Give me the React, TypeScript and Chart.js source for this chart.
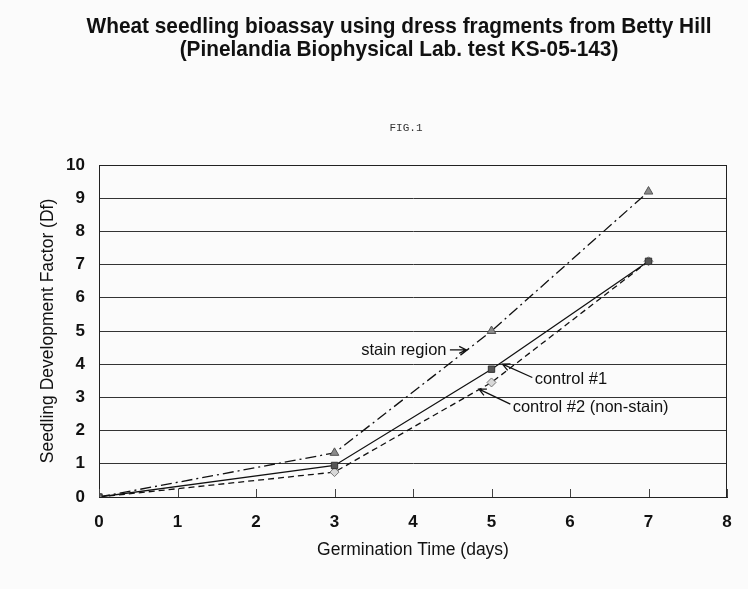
import React, { useEffect, useRef } from "react";
import { Chart, registerables } from "chart.js";

Chart.register(...registerables);

// ---- data ----
const days = [0, 3, 5, 7];
const stainRegion = [0, 1.33, 5.0, 9.2];
const control1 = [0, 0.95, 3.85, 7.1];
const control2 = [0, 0.75, 3.45, 7.1];
const xTickValues = [0, 1, 2, 3, 4, 5, 6, 7, 8];
const titleLines = [
  "Wheat seedling bioassay using dress fragments from Betty Hill",
  "(Pinelandia Biophysical Lab. test KS-05-143)",
];
const figLabel = "FIG.1";
const xTitle = "Germination Time (days)";
const yTitle = "Seedling Development Factor (Df)";
const seriesNames = ["stain region", "control #1", "control #2 (non-stain)"];

// annotation placement (data units)
const annotationText = ["stain region", "control #1", "control #2 (non-stain)"];
const annotationTextAt = [
  [3.34, 4.4],
  [5.55, 3.55],
  [5.27, 2.71],
];
const annotationArrowFrom = [
  [4.47, 4.43],
  [5.52, 3.6],
  [5.24, 2.8],
];
const annotationArrowTo = [
  [4.68, 4.43],
  [5.14, 4.0],
  [4.84, 3.25],
];

const FONT = "'Liberation Sans', Arial, sans-serif";

const decorPlugin = {
  id: "decor",
  beforeDraw(chart: any) {
    const ctx = chart.ctx;
    ctx.save();
    ctx.fillStyle = "#fbfbfb";
    ctx.fillRect(0, 0, chart.width, chart.height);
    ctx.restore();
  },
  afterDraw(chart: any) {
    const ctx = chart.ctx;
    const { left, right, top, bottom } = chart.chartArea;
    const xs = chart.scales.x;
    const ys = chart.scales.y;
    ctx.save();
    // title (condensed bold)
    ctx.fillStyle = "#111";
    ctx.font = `bold 22px ${FONT}`;
    ctx.textAlign = "center";
    ctx.textBaseline = "middle";
    const w0 = ctx.measureText(titleLines[0]).width;
    const sx = 625 / w0;
    const cy = [27, 50];
    titleLines.forEach((t, i) => {
      ctx.save();
      ctx.translate(399, cy[i]);
      ctx.scale(sx, 1);
      ctx.fillText(t, 0, 0);
      ctx.restore();
    });
    // FIG label
    ctx.font = `11px 'Liberation Mono', 'DejaVu Sans Mono', monospace`;
    ctx.fillStyle = "#333";
    ctx.fillText(figLabel, 406, 128);

    // plot border
    ctx.strokeStyle = "#222";
    ctx.lineWidth = 1;
    ctx.strokeRect(left + 0.5, top + 0.5, right - left - 1, bottom - top);

    // inward x tick marks
    ctx.strokeStyle = "#444";
    xTickValues.forEach((v) => {
      const px = Math.round(xs.getPixelForValue(v)) + 0.5;
      ctx.beginPath();
      ctx.moveTo(px, bottom);
      ctx.lineTo(px, bottom - 8);
      ctx.stroke();
    });

    // annotations
    ctx.font = `16.5px ${FONT}`;
    ctx.fillStyle = "#111";
    ctx.textAlign = "left";
    ctx.textBaseline = "middle";
    ctx.strokeStyle = "#111";
    ctx.lineWidth = 1.3;
    annotationText.forEach((t, i) => {
      const tx = xs.getPixelForValue(annotationTextAt[i][0]);
      const ty = ys.getPixelForValue(annotationTextAt[i][1]);
      ctx.fillText(t, tx, ty);
      const x1 = xs.getPixelForValue(annotationArrowFrom[i][0]);
      const y1 = ys.getPixelForValue(annotationArrowFrom[i][1]);
      const x2 = xs.getPixelForValue(annotationArrowTo[i][0]);
      const y2 = ys.getPixelForValue(annotationArrowTo[i][1]);
      ctx.beginPath();
      ctx.moveTo(x1, y1);
      ctx.lineTo(x2, y2);
      const a = Math.atan2(y2 - y1, x2 - x1);
      const L = 8;
      const h = 0.45;
      ctx.moveTo(x2 - L * Math.cos(a - h), y2 - L * Math.sin(a - h));
      ctx.lineTo(x2, y2);
      ctx.lineTo(x2 - L * Math.cos(a + h), y2 - L * Math.sin(a + h));
      ctx.stroke();
    });
    ctx.restore();
  },
};

export default function App() {
  const ref = useRef<HTMLCanvasElement | null>(null);
  useEffect(() => {
    document.body.style.margin = "0";
    const canvas = ref.current;
    if (!canvas) return;
    const mk = (ys: number[]) => days.map((d, i) => ({ x: d, y: ys[i] }));
    const chart = new Chart(canvas, {
      type: "line",
      data: {
        datasets: [
          {
            label: seriesNames[0],
            data: mk(stainRegion),
            borderColor: "#111",
            borderWidth: 1.3,
            borderDash: [11, 4, 2, 4],
            pointStyle: "triangle",
            pointRadius: 5,
            pointBackgroundColor: "#8a8a8a",
            pointBorderColor: "#555",
            pointBorderWidth: 1,
          },
          {
            label: seriesNames[1],
            data: mk(control1),
            borderColor: "#111",
            borderWidth: 1.3,
            pointStyle: "rect",
            pointRadius: 4.5,
            pointBackgroundColor: "#555",
            pointBorderColor: "#333",
            pointBorderWidth: 1,
          },
          {
            label: seriesNames[2],
            data: mk(control2),
            borderColor: "#111",
            borderWidth: 1.3,
            borderDash: [6, 4],
            pointStyle: "rectRot",
            pointRadius: 4.5,
            pointBackgroundColor: "#d8d8d8",
            pointBorderColor: "#777",
            pointBorderWidth: 1,
          },
        ],
      },
      options: {
        responsive: false,
        animation: false,
        devicePixelRatio: 1,
        layout: { padding: { top: 165, right: 21, bottom: 22, left: 0 } },
        plugins: {
          legend: { display: false },
          title: { display: false },
          tooltip: { enabled: false },
        },
        scales: {
          x: {
            type: "linear",
            min: 0,
            max: 8,
            afterFit: (s: any) => {
              s.height = 70;
            },
            afterBuildTicks: (s: any) => {
              s.ticks = xTickValues.map((v) => ({ value: v }));
            },
            ticks: {
              color: "#111",
              font: { family: FONT, size: 17, weight: "bold" },
              padding: 15,
              maxRotation: 0,
            },
            grid: { display: false, drawTicks: false },
            border: { display: true, color: "#222", width: 1 },
            title: {
              display: true,
              text: xTitle,
              color: "#111",
              font: { family: FONT, size: 17.5 },
              padding: { top: 0, bottom: 6.5 },
            },
          },
          y: {
            type: "linear",
            min: 0,
            max: 10,
            afterFit: (s: any) => {
              s.width = 99;
            },
            ticks: {
              stepSize: 1,
              color: "#111",
              font: { family: FONT, size: 17, weight: "bold" },
              padding: 14,
            },
            grid: { color: "#333", lineWidth: 1, drawTicks: false },
            border: { display: true, color: "#222", width: 1 },
            title: {
              display: true,
              text: yTitle,
              color: "#111",
              font: { family: FONT, size: 17.5 },
              padding: { top: 38, bottom: 0 },
            },
          },
        },
      },
      plugins: [decorPlugin],
    } as any);
    return () => chart.destroy();
  }, []);
  return <canvas ref={ref} width={748} height={589} style={{ display: "block" }} />;
}
